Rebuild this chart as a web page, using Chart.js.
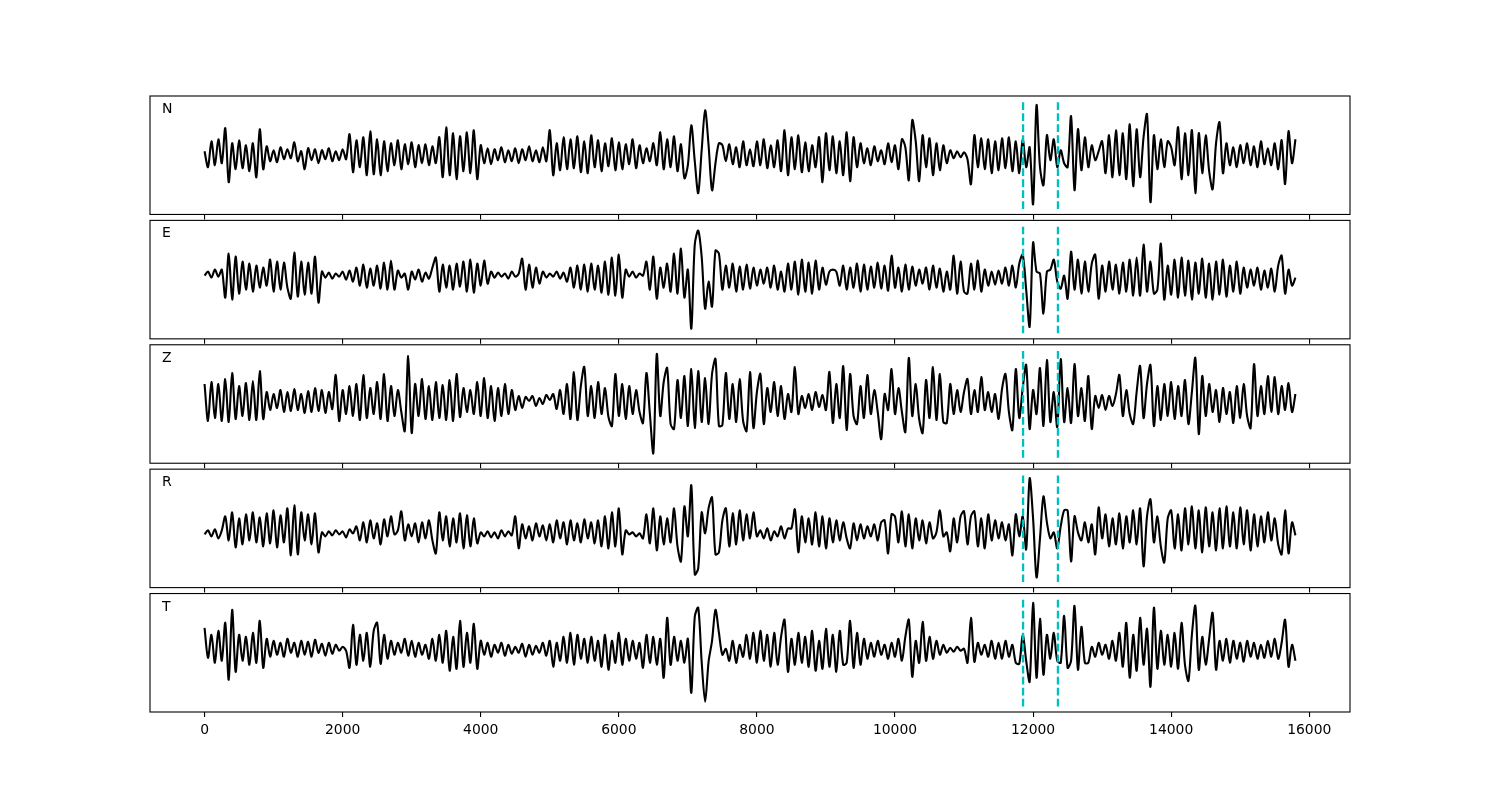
<!DOCTYPE html>
<html><head><meta charset="utf-8">
<script src="https://cdn.jsdelivr.net/npm/chart.js@4.4.1/dist/chart.umd.min.js"></script>
<style>
html,body{margin:0;padding:0;background:#fff;}
body{width:1500px;height:800px;position:relative;overflow:hidden;}
canvas{position:absolute;left:0;}
</style></head><body>
<script>
// ---- data (sample spacing 50, x = 0..15800) ----
const sampleStep = 50;
const channelLabels = ['N','E','Z','R','T'];
const pickTimes = [11855, 12360];
const xTickValues = [0,2000,4000,6000,8000,10000,12000,14000,16000];

const traceN = [
4,-12,14,-10,16,-8,27,-27,12,-14,
15,-13,10,-16,12,-22,26,-14,9,-6,
5,-7,8,-4,6,-3,13,-6,4,-14,
7,-5,6,-8,5,-4,7,-6,4,-5,
6,-4,21,-17,15,-12,18,-20,24,-19,
16,-20,14,-16,12,-10,15,-14,11,-9,
13,-12,10,-8,11,-10,9,-8,18,-22,
28,-20,22,-24,19,-16,23,-18,25,-24,
10,-8,7,-9,6,-5,8,-7,5,-6,
7,-8,6,-5,9,-6,5,-7,8,-6,
25,-20,12,-15,18,-14,16,-13,19,-17,
14,-18,20,-12,15,-16,12,-11,17,-15,
13,-14,11,-9,16,-13,10,-8,7,-6,
12,-10,23,-14,16,-12,19,-16,11,-23,
-10,30,-6,-38,5,45,10,-35,-8,12,
10,-6,11,-9,8,-12,14,-10,6,-11,
14,-10,16,-13,10,-12,15,-16,25,-20,
18,-14,20,-17,13,-16,10,-12,18,-27,
22,-15,19,-18,14,-20,23,-26,18,-12,
12,-8,7,-10,9,-6,5,-9,12,-7,
10,-14,16,8,-25,35,14,-26,20,-12,
17,-20,12,-15,10,-8,5,-3,4,-2,
3,-4,-29,20,-12,17,-14,16,-18,14,
-15,17,-13,18,-16,14,-18,16,-12,8,
-49,50,-12,-30,20,-5,16,-12,5,-8,
-12,39,-35,26,-15,18,-12,10,-5,4,
14,-18,20,-22,25,-20,22,-24,31,-31,
26,-22,18,41,-47,20,-14,16,-12,14,
8,-10,28,-24,22,-20,25,-38,22,-18,
20,-16,-34,12,33,-18,12,-10,8,-12,
10,-8,12,-10,9,-12,14,-9,7,-10,
12,-14,15,-29,24,-8,16];

const traceE = [
4,8,2,10,3,10,-18,26,-20,23,
-14,18,-10,16,-12,14,-8,12,-6,20,
-12,18,-10,17,-8,-19,27,-17,18,-15,
17,-14,23,-23,8,2,7,1,6,3,
8,0,9,-2,12,-6,15,-8,11,-6,
14,-9,17,-10,19,-10,9,2,6,-10,
8,0,10,-2,7,1,12,22,-12,15,
-8,14,-10,16,-7,18,-12,20,-13,16,
-6,19,-4,8,2,7,3,6,1,8,
3,6,21,-10,15,-8,12,-4,8,2,
6,3,8,1,7,-2,12,-8,14,-10,
15,-12,16,-10,14,-13,18,-15,22,-16,
25,-18,10,3,8,2,6,4,18,-10,
23,-19,12,-8,16,-12,26,-14,31,-18,
10,-49,35,49,23,-29,-2,-27,29,26,
-10,14,-8,16,-12,13,-10,15,-9,12,
-6,10,-4,12,-8,14,-10,8,-12,16,
-10,18,-15,20,-12,17,-14,19,-10,12,
-5,8,10,8,-6,14,-10,12,-8,16,
-12,15,-10,13,-8,17,-9,14,-11,24,
-8,12,-12,15,-10,13,-6,10,-4,12,
-10,14,-8,11,-12,8,-10,24,-14,18,
-12,-14,16,-10,19,-12,10,-6,8,-5,
9,-4,12,-6,14,-8,16,25,-10,-47,
37,8,6,-34,8,10,20,-2,-9,4,
-19,28,-10,20,-14,18,-12,16,25,-19,
14,-12,18,-10,15,-14,17,-12,20,-16,
22,-16,35,-12,18,-14,-10,36,-20,14,
-15,20,-18,22,-16,19,-20,17,-14,21,
-18,16,-20,18,-15,20,-17,14,-12,18,
-14,12,-8,10,-6,12,-10,9,-8,11,
-12,14,24,-14,10,-6,2];

const traceZ = [
20,-17,22,-14,20,-17,25,-18,31,-15,
18,-12,21,-16,23,-16,33,-15,12,-6,
10,-4,14,-8,12,-7,15,-6,10,-9,
13,-8,16,-7,14,-9,12,-5,29,-17,
14,-10,18,-12,20,-16,29,-14,16,-10,
22,-15,30,-17,18,-12,14,-8,-27,48,
-29,20,-12,25,-15,18,-16,22,-14,19,
-16,24,-17,30,-13,16,-8,14,-10,22,
-12,26,-14,18,-17,16,-12,20,-10,14,
-6,8,-4,7,3,8,-2,6,0,9,
4,10,-5,14,-10,20,-15,32,-16,18,
37,-12,18,-14,22,-10,16,-13,-22,30,
-12,20,-15,18,-10,14,-8,-19,31,-10,
-49,50,-12,22,36,-20,-25,24,-14,28,
-22,35,-24,33,-18,26,-20,30,45,-22,
-21,31,-15,20,-18,25,-17,-27,32,-24,
12,30,-20,16,-8,22,-12,18,-15,10,
-8,37,-10,8,-4,10,-6,12,-3,9,
-6,32,-19,20,-14,38,-26,30,-12,-20,
18,-14,29,-10,14,-8,-35,10,-6,35,
-10,16,-8,-28,46,-12,20,-15,-29,24,
-14,37,-16,30,-18,-19,20,-10,14,-8,
12,25,-10,14,-8,27,-6,12,-8,10,
-15,15,30,-8,-26,35,-14,16,39,-25,
14,-10,36,-22,44,-18,12,-23,45,-18,
16,-19,40,-12,16,-17,28,-25,8,-4,
9,-6,8,-2,10,29,-12,14,-10,-20,
12,38,-14,20,39,-22,18,-16,20,-12,
22,-15,18,-12,24,-20,12,46,-30,28,
-12,20,-8,14,-18,16,-10,12,-19,18,
-14,20,-12,-24,40,-12,18,-10,28,-8,
27,-10,18,-6,21,-8,10];

const traceR = [
-6,-2,-8,-1,-10,-2,12,-12,16,-19,
10,-16,14,-12,16,-14,11,-18,15,-15,
18,-19,13,-14,20,-27,23,-26,16,-12,
14,-16,15,-24,-4,-8,-3,-7,-2,-6,
-3,-9,-1,-5,2,-12,6,-14,8,-10,
5,-16,9,-8,12,-6,-2,17,-12,4,
-8,5,-14,6,-10,8,-12,-25,16,-12,
12,-18,10,-14,15,-20,13,-18,10,-15,
-4,-8,-3,-9,-4,-10,-2,-8,-3,-7,
12,-20,4,-10,2,-12,5,-8,3,-12,
4,-14,8,-10,6,-16,8,-12,5,-14,
9,-10,6,-15,8,-18,12,-20,16,-18,
20,-26,-2,-6,-4,-8,-5,-10,14,-15,
20,-22,12,-16,10,-14,20,-18,-33,22,
-8,43,-46,-40,16,-5,20,31,-26,-24,
8,20,-18,15,-16,18,-12,14,-10,16,
-8,-2,-10,0,-12,-3,-8,2,-10,0,
0,19,-24,12,-14,10,-16,16,-18,12,
-20,10,-14,8,-12,6,-10,-20,5,-12,
4,-10,2,-8,4,-12,6,8,-25,14,
12,-14,17,-18,14,-20,10,-12,8,-15,
6,-10,-4,18,-8,-4,-23,10,-14,12,
17,-16,12,17,-18,10,-20,14,-12,8,
-10,6,-12,4,-27,14,-8,12,-21,50,
10,-49,-10,32,6,-10,-4,-20,2,18,
18,-33,12,-4,-12,6,-14,4,-26,21,
-10,14,-18,10,-16,15,-20,12,-14,18,
-16,20,-38,12,29,-14,12,-18,-34,10,
18,-20,14,-22,20,-16,22,-20,18,-24,
21,-18,16,-22,20,-20,22,-18,16,-20,
21,-16,18,-22,14,-18,12,-14,16,-12,
10,-16,-26,18,-25,6,-7];

const traceT = [
25,-5,18,-10,22,-8,30,-27,43,-19,
18,-8,16,-12,20,-10,32,-15,14,-4,
12,-2,10,-4,14,0,10,-4,12,-2,
11,-4,13,0,9,-3,10,-1,8,2,
6,2,-15,28,-12,18,-8,20,-14,22,
30,-11,18,-6,12,-2,10,0,14,-3,
12,-4,10,-2,8,-6,14,-8,18,-10,
22,-18,16,-16,32,-14,20,-10,29,-16,
12,-2,10,-4,8,0,10,-3,8,-1,
6,0,9,-4,8,-2,7,0,10,-3,
12,-14,10,-8,16,-10,20,-12,18,-6,
14,-10,16,-8,12,-14,18,-17,12,-10,
20,-12,14,-8,12,-6,10,-15,18,-10,
16,-12,14,-25,35,-12,16,-8,12,-10,
14,-40,36,45,-9,-49,-9,12,43,20,
-2,4,-8,12,-10,8,-4,18,-6,20,
-10,22,-8,18,-14,20,-12,16,33,-19,
14,-12,20,-10,16,-14,22,-18,12,-16,
24,-14,18,-19,22,-12,-10,32,-15,20,
-12,14,-6,10,-4,12,-2,8,-6,10,
-4,14,-8,16,33,-24,12,-10,31,-8,
16,-6,12,-2,8,0,5,1,6,2,
4,-10,35,-9,10,-2,8,-4,12,-6,
10,-6,12,-4,8,-10,-11,18,-8,-29,
50,-25,34,-22,18,-6,20,-8,-10,37,
-15,-8,47,-17,26,-10,-10,6,-4,10,
-2,8,-6,12,-8,20,-14,30,-25,18,
-18,35,-12,24,-34,45,-16,22,-12,18,
-14,20,-16,30,-12,-28,18,47,-17,16,
-12,14,40,-17,12,-8,14,-10,12,-6,
10,-9,12,-4,10,-6,8,-5,12,-4,
14,-6,10,33,-14,8,-8];

const traces = [traceN, traceE, traceZ, traceR, traceT];

// ---- layout ----
const xMin = -790, xMax = 16590;
const yHalf = 59.23;
const panelTops = [96, 220.38, 344.77, 469.15, 593.54];
const panelH = 118.46;
const plotLeft = 150, plotRight = 150;

const panelPlugin = {
  id: 'panelDeco',
  afterDatasetsDraw(chart, args, opts) {
    const ctx = chart.ctx, a = chart.chartArea, xs = chart.scales.x;
    ctx.save();
    ctx.setLineDash([7.7, 3.3]);
    ctx.lineWidth = 2.3;
    ctx.lineCap = 'butt';
    ctx.strokeStyle = '#00bfbf';
    pickTimes.forEach(t => {
      const px = xs.getPixelForValue(t);
      ctx.beginPath();
      ctx.moveTo(px, a.bottom - 5.5);
      ctx.lineTo(px, a.top + 5.4);
      ctx.stroke();
    });
    ctx.setLineDash([]);
    ctx.lineWidth = 1.1;
    ctx.strokeStyle = '#000';
    ctx.strokeRect(a.left, a.top, a.right - a.left, a.bottom - a.top);
    ctx.fillStyle = '#000';
    ctx.font = '14px "DejaVu Sans"';
    ctx.textBaseline = 'alphabetic';
    ctx.fillText(opts.label, a.left + 12, a.top + 17);
    ctx.restore();
  }
};

traces.forEach((tr, k) => {
  const isLast = k === traces.length - 1;
  const cv = document.createElement('canvas');
  const top0 = Math.floor(panelTops[k]) - 3;
  const padTop = panelTops[k] - top0;
  const axisH = isLast ? 40 : 6;
  const h = Math.ceil(padTop + panelH + axisH);
  cv.width = 1500; cv.height = h;
  cv.style.top = top0 + 'px';
  cv.style.width = '1500px'; cv.style.height = h + 'px';
  document.body.appendChild(cv);
  const axisFit = h - padTop - panelH;
  new Chart(cv, {
    type: 'line',
    data: {
      datasets: [{
        data: tr.map((v, i) => ({x: i * sampleStep, y: v})),
        borderColor: '#000',
        borderWidth: 2.1,
        borderJoinStyle: 'round',
        pointRadius: 0,
        fill: false,
        tension: 0.3
      }]
    },
    options: {
      responsive: false,
      animation: false,
      devicePixelRatio: 1,
      layout: {padding: {left: plotLeft, right: plotRight, top: padTop, bottom: 0}},
      plugins: {legend: {display: false}, tooltip: {enabled: false}, panelDeco: {label: channelLabels[k]}},
      scales: {
        x: {
          type: 'linear', min: xMin, max: xMax,
          afterBuildTicks: s => { s.ticks = xTickValues.map(v => ({value: v})); },
          afterFit: s => { s.height = axisFit; },
          border: {display: false},
          grid: {drawOnChartArea: false, drawTicks: true, tickLength: 5, color: '#000', lineWidth: 1.1},
          ticks: {display: isLast, autoSkip: false, maxRotation: 0, padding: 5, color: '#000',
                  font: {family: 'DejaVu Sans', size: 13.9},
                  callback: v => String(v)}
        },
        y: {display: false, min: -yHalf, max: yHalf}
      }
    },
    plugins: [panelPlugin]
  });
});
</script>
</body></html>
